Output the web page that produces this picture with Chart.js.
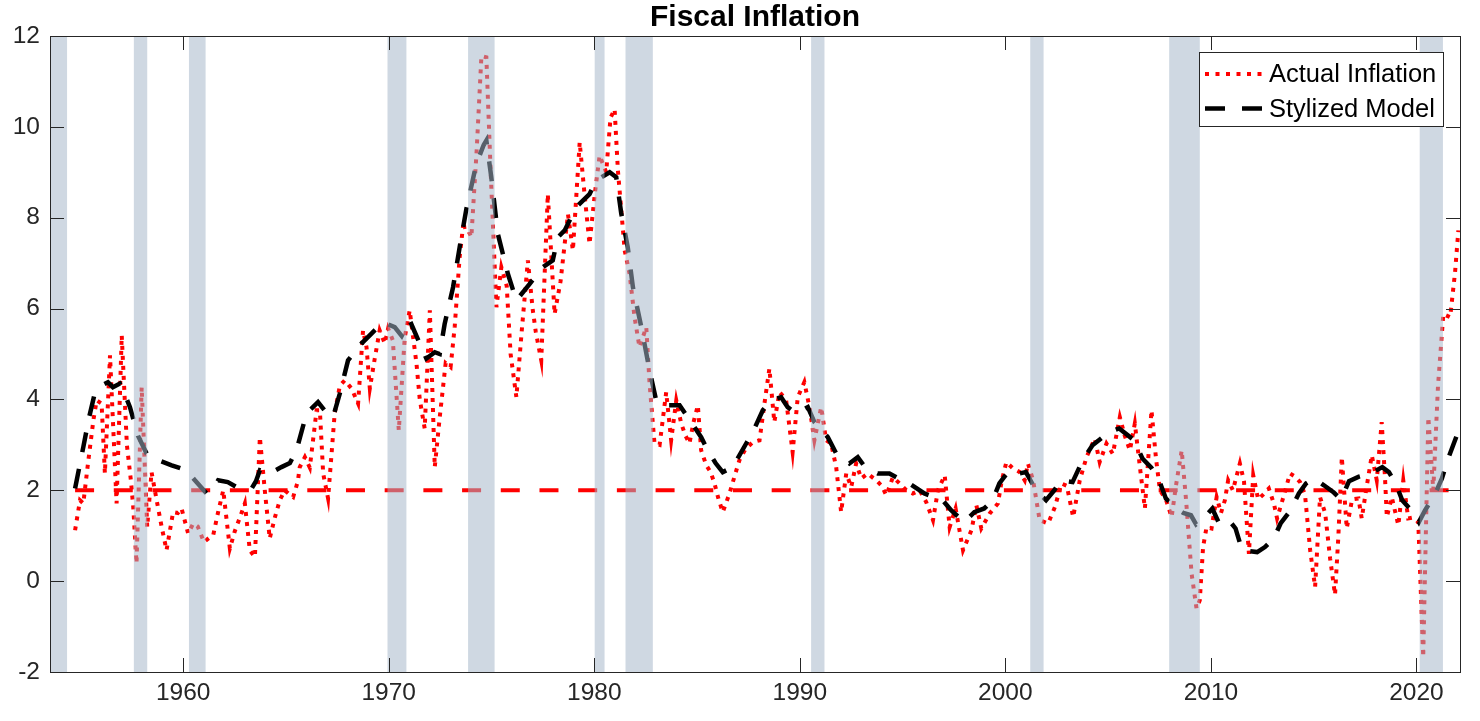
<!DOCTYPE html>
<html>
<head>
<meta charset="utf-8">
<script src="https://cdn.jsdelivr.net/npm/chart.js@4/dist/chart.umd.min.js"></script>
<style>
html,body{margin:0;padding:0;background:#fff;}
canvas{display:block;}
</style>
</head>
<body>
<canvas id="c" width="1480" height="721"></canvas>
<script>
const chartTitle = 'Fiscal Inflation';
const seriesNames = ['Actual Inflation', 'Stylized Model'];
const xTickValues = [1960, 1970, 1980, 1990, 2000, 2010, 2020];
const yTickValues = [-2, 0, 2, 4, 6, 8, 10, 12];

const actualDates = [
1954.74,1954.98,1955.14,1955.37,1955.63,1955.79,1956.03,1956.19,1956.44,1956.76,
1957.01,1957.26,1957.46,1957.57,1957.73,1957.98,1958.25,1958.46,1958.71,1958.95,
1959.19,1959.51,1959.74,1959.92,1960.24,1960.49,1960.71,1961.01,1961.25,1961.46,
1961.69,1961.95,1962.27,1962.51,1962.76,1963.00,1963.24,1963.49,1963.73,1963.97,
1964.21,1964.46,1964.70,1964.94,1965.19,1965.35,1965.58,1965.67,1965.92,1966.16,
1966.49,1966.65,1966.81,1967.05,1967.37,1967.62,1967.86,1968.19,1968.51,1968.75,
1968.92,1969.08,1969.32,1969.56,1969.81,1969.97,1970.20,1970.49,1970.78,1971.02,
1971.35,1971.51,1971.75,1972.00,1972.24,1972.48,1972.77,1973.01,1973.21,1973.45,
1973.61,1973.79,1974.02,1974.28,1974.51,1974.75,1974.96,1975.24,1975.48,1975.74,
1975.93,1976.21,1976.47,1976.77,1977.00,1977.15,1977.42,1977.74,1978.07,1978.36,
1978.72,1978.96,1979.29,1979.53,1979.77,1980.02,1980.26,1980.58,1980.79,1980.99,
1981.15,1981.48,1981.72,1981.96,1982.20,1982.53,1982.69,1982.93,1983.18,1983.50,
1983.74,1983.99,1984.23,1984.44,1984.63,1984.83,1985.04,1985.20,1985.45,1985.66,
1985.85,1986.05,1986.25,1986.58,1986.82,1987.06,1987.35,1987.71,1988.04,1988.28,
1988.52,1988.76,1989.01,1989.33,1989.65,1989.90,1990.22,1990.47,1990.71,1991.04,
1991.28,1991.52,1991.77,1992.01,1992.26,1992.50,1992.74,1992.99,1993.31,1993.49,
1993.72,1993.98,1994.21,1994.53,1994.86,1995.18,1995.50,1995.83,1996.15,1996.48,
1996.72,1997.05,1997.29,1997.58,1997.94,1998.35,1998.59,1998.83,1999.24,1999.64,
1999.82,2000.05,2000.37,2000.70,2000.94,2001.10,2001.35,2001.67,2002.08,2002.41,
2002.73,2002.99,2003.30,2003.62,2003.95,2004.35,2004.59,2004.92,2005.23,2005.57,
2005.81,2006.06,2006.30,2006.55,2006.79,2007.11,2007.33,2007.52,2007.81,2008.09,
2008.30,2008.58,2008.79,2009.06,2009.30,2009.46,2009.62,2009.79,2010.03,2010.28,
2010.49,2010.68,2010.84,2011.07,2011.41,2011.61,2011.85,2012.06,2012.30,2012.53,
2012.82,2013.07,2013.22,2013.56,2013.85,2014.10,2014.34,2014.58,2014.83,2015.07,
2015.31,2015.56,2015.80,2016.04,2016.20,2016.37,2016.61,2016.87,2017.18,2017.34,
2017.55,2017.83,2018.07,2018.31,2018.47,2018.56,2018.80,2019.12,2019.36,2019.60,
2019.83,2020.09,2020.33,2020.58,2020.82,2021.05,2021.31,2021.64,2021.88,2022.04
];
const actualValues = [
1.12,1.78,1.71,2.60,3.54,3.98,3.91,2.37,4.97,1.71,
5.41,3.00,2.20,1.63,0.39,4.27,1.19,2.40,1.78,1.20,
0.68,1.52,1.50,1.60,1.05,1.27,1.20,0.86,0.95,1.01,
1.50,2.00,0.72,1.10,1.40,1.71,0.68,0.53,3.17,2.00,
0.94,1.40,1.78,2.00,1.90,1.85,2.20,2.51,2.73,2.50,
3.76,3.76,2.37,1.82,3.69,4.30,4.42,4.24,3.91,5.52,
5.15,4.24,4.90,5.52,5.23,5.56,5.30,3.32,5.37,5.96,
4.79,4.00,3.36,5.96,2.51,3.60,4.80,4.71,5.60,7.13,
7.79,7.80,7.57,9.50,11.56,11.53,9.00,6.03,6.91,6.50,
5.00,4.05,5.50,7.06,6.00,5.50,4.86,8.52,5.88,6.60,
8.08,7.28,9.66,8.50,7.42,8.50,9.37,9.00,10.20,10.39,
9.04,7.28,6.76,5.81,5.15,5.59,4.35,3.03,3.00,4.16,
3.10,3.98,3.47,3.20,3.03,3.50,3.87,2.88,2.55,2.40,
2.15,1.80,1.52,1.93,2.30,2.66,2.90,3.06,3.10,3.91,
4.68,3.50,4.16,4.00,2.84,4.05,4.38,3.83,3.10,3.83,
3.10,3.03,2.51,1.52,2.37,2.07,2.59,2.26,2.37,2.30,
2.22,2.10,1.89,2.29,2.15,2.00,1.93,2.00,1.74,1.34,
2.00,2.33,1.19,1.60,0.68,1.12,1.67,1.16,1.49,1.71,
2.20,2.62,2.48,2.40,2.22,2.59,2.22,1.34,1.27,1.63,
2.15,2.10,1.41,2.22,2.73,3.14,2.62,3.03,2.80,3.61,
3.20,2.88,3.47,2.50,1.60,3.76,2.70,2.00,1.80,1.41,
2.10,2.88,1.80,0.17,-0.60,-0.42,0.75,1.19,1.16,1.85,
1.50,1.78,2.22,2.00,2.59,2.20,0.60,2.33,1.80,1.90,
2.04,1.70,1.38,1.90,2.37,2.30,2.18,1.90,0.68,-0.13,
1.85,1.50,0.50,-0.30,0.97,2.73,1.16,1.80,1.82,1.38,
2.00,2.77,2.22,3.50,2.29,1.41,1.85,1.23,2.22,1.38,
1.40,1.30,-1.67,3.61,2.00,4.30,5.88,5.81,6.80,7.72
];

const modelDates = [
1954.74,1955.14,1955.42,1955.71,1956.00,1956.34,1956.58,1956.92,1957.17,1957.41,
1957.80,1958.22,1958.53,1958.87,1959.44,1960.16,1960.57,1961.14,1961.40,1961.70,
1962.17,1962.60,1963.33,1963.54,1963.73,1964.21,1964.78,1965.19,1965.51,1966.00,
1966.56,1966.89,1967.29,1967.62,1968.02,1968.67,1969.16,1969.72,1970.29,1970.63,
1971.02,1971.51,1971.83,1972.24,1972.48,1972.72,1973.13,1973.45,1973.78,1974.26,
1974.62,1974.75,1974.99,1975.31,1975.80,1976.21,1976.85,1977.50,1977.98,1978.23,
1978.56,1979.12,1979.77,1980.10,1980.75,1981.07,1981.31,1981.63,1981.88,1982.29,
1982.69,1983.01,1983.34,1984.15,1984.55,1985.20,1985.52,1985.90,1986.25,1986.74,
1987.39,1987.71,1988.20,1988.61,1989.09,1989.41,1989.82,1990.39,1990.71,1991.36,
1991.77,1992.41,1992.82,1993.19,1993.79,1994.36,1994.84,1995.33,1996.06,1996.95,
1997.36,1998.00,1998.49,1998.97,1999.38,1999.71,2000.19,2000.68,2001.00,2001.49,
2001.98,2002.38,2002.71,2003.27,2003.76,2004.24,2005.05,2005.54,2006.27,2006.67,
2007.10,2007.48,2007.81,2008.30,2008.66,2009.03,2009.28,2009.67,2010.07,2010.40,
2010.88,2011.20,2011.52,2011.85,2012.25,2012.63,2013.06,2013.39,2013.88,2014.28,
2014.63,2015.01,2015.50,2015.98,2016.33,2016.72,2017.20,2017.77,2018.34,2018.66,
2018.99,2019.31,2019.88,2020.12,2020.41,2020.92,2021.24,2021.57,2021.96
];
const modelValues = [
2.04,2.95,3.60,4.16,4.30,4.38,4.27,4.35,4.10,3.83,
3.20,2.81,2.70,2.65,2.55,2.44,2.22,1.93,2.00,2.22,
2.18,2.07,2.04,2.20,2.44,2.37,2.51,2.60,2.88,3.69,
3.94,3.75,3.61,4.13,4.86,5.23,5.45,5.70,5.59,5.40,
5.74,5.23,4.90,5.04,5.00,5.66,6.47,7.35,8.20,9.18,
9.60,9.70,8.89,7.64,6.76,6.18,6.54,6.91,7.06,7.57,
7.72,8.23,8.52,8.82,9.00,8.89,8.10,7.35,6.47,5.59,
4.64,3.98,3.87,3.87,3.61,3.17,2.88,2.60,2.40,2.51,
3.03,3.28,3.76,3.98,4.05,3.83,3.69,3.83,3.50,3.17,
2.81,2.59,2.73,2.50,2.37,2.37,2.25,2.15,1.93,1.78,
1.56,1.30,1.52,1.60,1.78,2.15,2.44,2.37,2.40,2.00,
1.78,2.00,2.22,2.18,2.66,2.99,3.28,3.36,3.10,2.70,
2.50,2.22,1.82,1.60,1.50,1.45,1.25,1.40,1.60,1.27,
1.34,1.16,0.68,0.66,0.64,0.75,0.94,1.27,1.56,1.93,
2.15,2.26,2.11,1.95,1.80,2.20,2.30,2.37,2.51,2.40,
2.15,1.78,1.49,1.30,1.55,1.93,2.26,2.73,3.20
];

const targetDates = [1954.74, 2022.04];
const targetValues = [2, 2];

const recessionStarts = [1953.52, 1957.60, 1960.28, 1969.94, 1973.86, 1980.02, 1981.52, 1990.55, 2001.21, 2007.97, 2020.16];
const recessionEnds   = [1954.35, 1958.25, 1961.09, 1970.86, 1975.15, 1980.50, 1982.85, 1991.20, 2001.86, 2009.46, 2021.29];

const FONT = '"Liberation Sans", Arial, Helvetica, sans-serif';
const AXIS_COLOR = '#262626';

const toPoints = (xs, ys) => xs.map((x, i) => ({x: x, y: ys[i]}));

const overlayPlugin = {
  id: 'overlay',
  afterDatasetsDraw(chart) {
    const {ctx, chartArea: a, scales} = chart;
    const xs = scales.x;
    ctx.save();
    ctx.beginPath();
    ctx.rect(a.left, a.top, a.right - a.left, a.bottom - a.top);
    ctx.clip();
    ctx.fillStyle = 'rgba(164,181,200,0.53)';
    recessionStarts.forEach((s, i) => {
      const x0 = xs.getPixelForValue(s);
      const x1 = xs.getPixelForValue(recessionEnds[i]);
      ctx.fillRect(x0, a.top, x1 - x0, a.bottom - a.top);
    });
    ctx.restore();
  },
  afterDraw(chart) {
    const {ctx, chartArea: a, scales} = chart;
    const xs = scales.x, ys = scales.y;
    ctx.save();
    // legend
    const lx = 1199.5, ly = 52.5, lw = 244, lh = 74;
    ctx.fillStyle = '#fff';
    ctx.fillRect(lx, ly, lw, lh);
    ctx.strokeStyle = AXIS_COLOR;
    ctx.lineWidth = 1;
    ctx.strokeRect(lx, ly, lw, lh);
    const ds = chart.data.datasets;
    const rows = [{d: ds[1], y: 74}, {d: ds[0], y: 108.5}];
    rows.forEach(r => {
      ctx.save();
      ctx.strokeStyle = r.d.borderColor;
      ctx.lineWidth = r.d.borderWidth;
      ctx.setLineDash(r.d.legendDash || r.d.borderDash);
      ctx.lineCap = 'butt';
      ctx.beginPath();
      ctx.moveTo(1205, r.y);
      ctx.lineTo(1265, r.y);
      ctx.stroke();
      ctx.restore();
      ctx.fillStyle = '#000';
      ctx.font = '25.5px ' + FONT;
      ctx.textBaseline = 'middle';
      ctx.textAlign = 'left';
      ctx.fillText(r.d.label, 1269, r.y + 1);
    });
    // frame and inward ticks
    ctx.strokeStyle = AXIS_COLOR;
    ctx.lineWidth = 1;
    ctx.beginPath();
    xTickValues.forEach(v => {
      const px = Math.round(xs.getPixelForValue(v)) + 0.5;
      ctx.moveTo(px, a.bottom); ctx.lineTo(px, a.bottom - 14);
      ctx.moveTo(px, a.top); ctx.lineTo(px, a.top + 14);
    });
    yTickValues.forEach(v => {
      const py = Math.round(ys.getPixelForValue(v)) + 0.5;
      ctx.moveTo(a.left, py); ctx.lineTo(a.left + 14, py);
      ctx.moveTo(a.right, py); ctx.lineTo(a.right - 14, py);
    });
    ctx.stroke();
    ctx.strokeRect(Math.round(a.left) + 0.5, Math.round(a.top) + 0.5,
                   Math.round(a.right - a.left), Math.round(a.bottom - a.top));
    ctx.restore();
  }
};

new Chart(document.getElementById('c'), {
  type: 'line',
  data: {
    datasets: [
      {
        label: seriesNames[1],
        data: toPoints(modelDates, modelValues),
        borderColor: '#000000',
        borderWidth: 4.5,
        borderDash: [20, 17],
        pointRadius: 0,
        tension: 0,
        fill: false
      },
      {
        label: seriesNames[0],
        data: toPoints(actualDates, actualValues),
        borderColor: '#ff0000',
        borderWidth: 4,
        borderDash: [4, 6],
        legendDash: [4, 6.5],
        pointRadius: 0,
        tension: 0,
        fill: false
      },
      {
        label: 'Target',
        data: toPoints(targetDates, targetValues),
        borderColor: '#ff0000',
        borderWidth: 4,
        borderDash: [19, 19.7],
        pointRadius: 0,
        tension: 0,
        fill: false
      }
    ]
  },
  options: {
    responsive: false,
    animation: false,
    devicePixelRatio: 1,
    layout: {padding: {left: 0, right: 20, top: 0, bottom: 0}},
    plugins: {
      legend: {display: false},
      tooltip: {enabled: false},
      title: {
        display: true,
        fullSize: false,
        text: chartTitle,
        color: '#000',
        font: {size: 30, weight: 'bold', family: FONT, lineHeight: 1.15},
        padding: {top: 0, bottom: 1.5}
      }
    },
    scales: {
      x: {
        type: 'linear',
        min: 1953.52,
        max: 2022.12,
        afterBuildTicks: s => { s.ticks = xTickValues.map(v => ({value: v})); },
        afterFit: s => { s.height = 49; },
        grid: {display: false, drawTicks: false},
        border: {display: false},
        ticks: {
          color: AXIS_COLOR,
          font: {size: 24.5, family: FONT},
          padding: 7,
          maxRotation: 0,
          autoSkip: false,
          callback: v => String(v)
        }
      },
      y: {
        type: 'linear',
        min: -2,
        max: 12,
        afterBuildTicks: s => { s.ticks = yTickValues.map(v => ({value: v})); },
        afterFit: s => { s.width = 50; },
        grid: {display: false, drawTicks: false},
        border: {display: false},
        ticks: {
          color: AXIS_COLOR,
          font: {size: 24.5, family: FONT},
          padding: 10,
          autoSkip: false,
          callback: v => String(v)
        }
      }
    }
  },
  plugins: [overlayPlugin]
});
</script>
</body>
</html>
